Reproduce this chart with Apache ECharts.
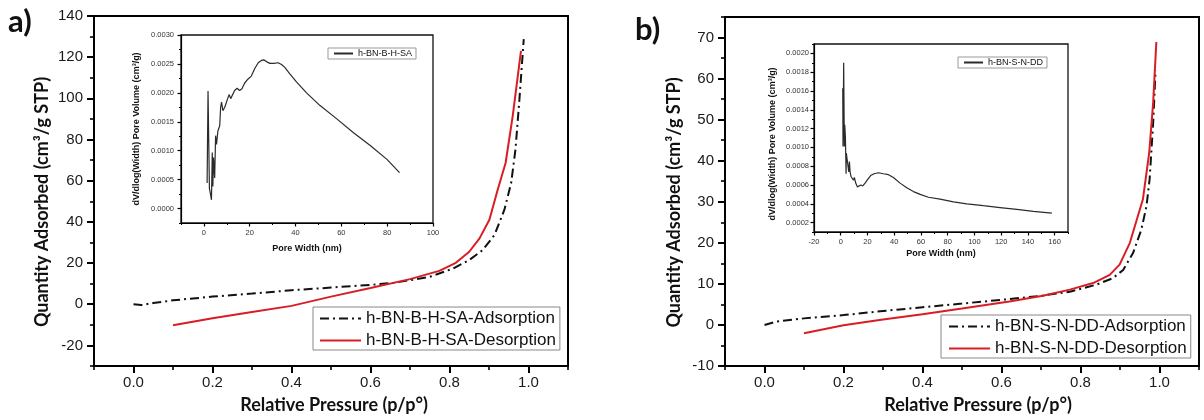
<!DOCTYPE html>
<html>
<head>
<meta charset="utf-8">
<script src="https://cdn.jsdelivr.net/npm/echarts@6/dist/echarts.min.js"></script>
<style>
  html, body { margin: 0; padding: 0; background: #fff; }
  #chart { width: 1204px; height: 420px; }
</style>
</head>
<body>
<div id="chart"></div>
<script>
// ---- (a) h-BN-B-H-SA isotherm ----
const adsPressureA = [0.0, 0.02, 0.05, 0.1, 0.2, 0.3, 0.4, 0.5, 0.6, 0.66, 0.75, 0.81, 0.85, 0.884, 0.914, 0.939, 0.956, 0.967, 0.977, 0.988];
const adsQuantityA = [0.0, -0.4, 0.6, 1.9, 3.7, 5.2, 6.8, 8.1, 9.4, 10.4, 13.3, 17.4, 21.5, 26.3, 33.7, 45.9, 58.8, 75.1, 99.5, 128.8];
const desPressureA = [0.1, 0.2, 0.3, 0.4, 0.5, 0.6, 0.7, 0.774, 0.816, 0.85, 0.876, 0.901, 0.922, 0.942, 0.96, 0.981];
const desQuantityA = [-10.2, -6.8, -3.8, -0.8, 3.7, 7.9, 12.2, 16.2, 20.1, 25.5, 32.0, 41.0, 55.6, 68.6, 91.4, 123.1];

// pore size distribution (a)
const poreWidthA = [1.4, 1.8, 2.4, 3.0, 3.3, 3.65, 3.9, 4.2, 4.7, 5.1, 5.5, 6.1, 6.9, 7.3, 7.7, 8.3, 9.1, 10.1, 11.0, 11.7, 12.4, 13.4, 14.5, 15.6, 16.6, 17.8, 19.3, 20.7, 22.2, 23.7, 25.1, 26.1, 27.3, 28.8, 30.5, 32.4, 33.9, 35.3, 37.5, 40.4, 44.8, 50.7, 58.0, 65.3, 72.6, 79.9, 85.4];
const poreVolA = [0.00044, 0.00203, 0.00035, 0.00022, 0.00015, 0.00097, 0.00038, 0.00088, 0.00053, 0.00126, 0.00111, 0.00134, 0.00143, 0.00175, 0.00184, 0.00169, 0.00175, 0.00187, 0.00197, 0.0019, 0.00192, 0.00204, 0.00208, 0.00204, 0.00207, 0.00217, 0.00224, 0.00229, 0.00242, 0.00252, 0.00256, 0.00257, 0.00254, 0.00251, 0.00251, 0.00252, 0.00249, 0.00244, 0.00233, 0.00219, 0.002, 0.00178, 0.00155, 0.00131, 0.00109, 0.00085, 0.00062];

// ---- (b) h-BN-S-N-DD isotherm ----
const adsPressureB = [0.0, 0.03, 0.1, 0.2, 0.3, 0.4, 0.5, 0.62, 0.7, 0.773, 0.84, 0.882, 0.908, 0.933, 0.954, 0.967, 0.975, 0.984, 0.99];
const adsQuantityB = [0.0, 0.8, 1.6, 2.4, 3.4, 4.3, 5.2, 6.3, 7.1, 8.1, 9.8, 11.4, 13.4, 17.5, 23.2, 28.9, 35.5, 49.3, 62.0];
const desPressureB = [0.1, 0.2, 0.3, 0.4, 0.5, 0.62, 0.705, 0.773, 0.832, 0.874, 0.899, 0.925, 0.958, 0.974, 0.984, 0.992];
const desQuantityB = [-2.0, -0.1, 1.3, 2.6, 4.0, 5.7, 7.1, 8.6, 10.2, 12.2, 14.7, 20.0, 30.6, 42.0, 54.2, 68.9];

// pore size distribution (b)
const poreWidthB = [1.5, 1.7, 2.2, 2.7, 3.0, 3.5, 4.0, 4.2, 4.7, 5.2, 6.0, 6.5, 7.0, 7.7, 8.7, 9.5, 10.2, 11.2, 12.5, 13.7, 15, 16.5, 18.2, 20.2, 22.4, 24.9, 28.2, 31.9, 35.7, 39.4, 44.4, 49.4, 54.4, 59.4, 65.6, 74.3, 84.3, 94.3, 106.7, 119.2, 131.7, 144.1, 157.9];
const poreVolB = [0.00163, 0.00101, 0.0019, 0.00101, 0.00124, 0.00111, 0.00072, 0.00094, 0.00088, 0.00083, 0.00074, 0.00085, 0.00074, 0.00069, 0.0007, 0.00065, 0.00068, 0.00062, 0.00058, 0.00058, 0.0006, 0.00059, 0.00062, 0.00066, 0.0007, 0.00072, 0.00073, 0.00072, 0.00071, 0.00068, 0.00062, 0.00057, 0.00053, 0.0005, 0.00047, 0.00045, 0.00042, 0.0004, 0.00038, 0.00036, 0.00034, 0.00032, 0.0003];

// ---- tick positions ----
const pressureTicks = [0.0, 0.2, 0.4, 0.6, 0.8, 1.0];
const pressureMinorTicks = [-0.1, 0.1, 0.3, 0.5, 0.7, 0.9, 1.1];
const quantityTicksA = [-20, 0, 20, 40, 60, 80, 100, 120, 140];
const quantityMinorTicksA = [-30, -10, 10, 30, 50, 70, 90, 110, 130];
const quantityTicksB = [-10, 0, 10, 20, 30, 40, 50, 60, 70];
const quantityMinorTicksB = [-5, 5, 15, 25, 35, 45, 55, 65, 75];
const widthTicksA = [0, 20, 40, 60, 80, 100];
const widthMinorTicksA = [-10, 10, 30, 50, 70, 90];
const volTicksA = [0, 0.0005, 0.001, 0.0015, 0.002, 0.0025, 0.003];
const volMinorTicksA = [-0.00025, 0.00025, 0.00075, 0.00125, 0.00175, 0.00225, 0.00275];
const widthTicksB = [-20, 0, 20, 40, 60, 80, 100, 120, 140, 160];
const widthMinorTicksB = [-10, 10, 30, 50, 70, 90, 110, 130, 150, 170];
const volTicksB = [0.0002, 0.0004, 0.0006, 0.0008, 0.001, 0.0012, 0.0014, 0.0016, 0.0018, 0.002];
const volMinorTicksB = [0.0001, 0.0003, 0.0005, 0.0007, 0.0009, 0.0011, 0.0013, 0.0015, 0.0017, 0.0019, 0.0021];

const zip = (xs, ys) => xs.map((x, i) => [x, ys[i]]);

const TICK_FONT = 'Liberation Sans';
const NAME_FONT = 'Lato';

// major axis: line, labels and long ticks
function majorAxis(o) {
  return {
    type: 'value', gridIndex: o.grid, position: o.pos,
    min: o.min, max: o.max,
    name: o.name, nameLocation: 'middle', nameGap: o.nameGap,
    nameTextStyle: Object.assign({ fontFamily: o.nameFont || NAME_FONT, fontWeight: 'bold', fontSize: o.nameSize, color: '#111' }, o.nameExtra || {}),
    axisLine: { show: true, onZero: false, lineStyle: { color: '#000', width: o.lw } },
    axisTick: { show: true, inside: false, length: o.tickLen, customValues: o.ticks, lineStyle: { color: '#000', width: o.lw } },
    axisLabel: { show: true, customValues: o.ticks, margin: o.labelMargin, fontFamily: TICK_FONT, fontSize: o.labelSize, color: o.labelColor || '#1a1a1a', formatter: o.fmt, hideOverlap: false },
    splitLine: { show: false }
  };
}
// companion axis carrying only the short minor ticks
function minorAxis(o) {
  return {
    type: 'value', gridIndex: o.grid, position: o.pos,
    min: o.min, max: o.max,
    axisLine: { show: false, onZero: false },
    axisTick: { show: true, inside: false, length: o.tickLen, customValues: o.ticks, lineStyle: { color: '#000', width: o.lw } },
    axisLabel: { show: false },
    splitLine: { show: false }
  };
}

const fix1 = v => v.toFixed(1);
const fix0 = v => String(Math.round(v));
const fix4 = v => v.toFixed(4);

const INSET_NAME_FONT = 'Liberation Sans';

const xAxes = [
  majorAxis({ grid: 0, pos: 'bottom', min: -0.1, max: 1.1, ticks: pressureTicks, tickLen: 7, lw: 2, labelMargin: 9, labelSize: 15, fmt: fix1,
    name: 'Relative Pressure (p/p°)', nameGap: 30, nameSize: 18, nameExtra: { padding: [0, 0, 0, 6] } }),
  minorAxis({ grid: 0, pos: 'bottom', min: -0.1, max: 1.1, ticks: pressureMinorTicks, tickLen: 4, lw: 1.6 }),
  majorAxis({ grid: 1, pos: 'bottom', min: -10, max: 100, ticks: widthTicksA, tickLen: 3.5, lw: 1.2, labelMargin: 6, labelSize: 7.5, fmt: fix0, labelColor: '#333',
    name: 'Pore Width (nm)', nameGap: 21, nameSize: 9, nameFont: INSET_NAME_FONT }),
  minorAxis({ grid: 1, pos: 'bottom', min: -10, max: 100, ticks: widthMinorTicksA, tickLen: 2, lw: 1 }),
  majorAxis({ grid: 2, pos: 'bottom', min: -0.1, max: 1.1, ticks: pressureTicks, tickLen: 7, lw: 2, labelMargin: 9, labelSize: 15, fmt: fix1,
    name: 'Relative Pressure (p/p°)', nameGap: 30, nameSize: 18, nameExtra: { padding: [0, 0, 0, 32] } }),
  minorAxis({ grid: 2, pos: 'bottom', min: -0.1, max: 1.1, ticks: pressureMinorTicks, tickLen: 4, lw: 1.6 }),
  majorAxis({ grid: 3, pos: 'bottom', min: -20, max: 170, ticks: widthTicksB, tickLen: 3.5, lw: 1.2, labelMargin: 6, labelSize: 7.5, fmt: fix0, labelColor: '#333',
    name: 'Pore Width (nm)', nameGap: 17.5, nameSize: 9, nameFont: INSET_NAME_FONT }),
  minorAxis({ grid: 3, pos: 'bottom', min: -20, max: 170, ticks: widthMinorTicksB, tickLen: 2, lw: 1 })
];

const yAxes = [
  majorAxis({ grid: 0, pos: 'left', min: -30, max: 140, ticks: quantityTicksA, tickLen: 7, lw: 2, labelMargin: 11, labelSize: 15, fmt: fix0,
    name: 'Quantity Adsorbed (cm³/g STP)', nameGap: 43, nameSize: 18, nameExtra: { padding: [0, 22, 0, 0] } }),
  minorAxis({ grid: 0, pos: 'left', min: -30, max: 140, ticks: quantityMinorTicksA, tickLen: 4, lw: 1.6 }),
  majorAxis({ grid: 1, pos: 'left', min: -0.00025, max: 0.003, ticks: volTicksA, tickLen: 3.5, lw: 1.2, labelMargin: 7, labelSize: 7.5, fmt: fix4, labelColor: '#333',
    name: 'dV/dlog(Width) Pore Volume (cm³/g)', nameGap: 39.5, nameSize: 9, nameFont: INSET_NAME_FONT }),
  minorAxis({ grid: 1, pos: 'left', min: -0.00025, max: 0.003, ticks: volMinorTicksA, tickLen: 2, lw: 1 }),
  majorAxis({ grid: 2, pos: 'left', min: -10, max: 75, ticks: quantityTicksB, tickLen: 7, lw: 2, labelMargin: 11, labelSize: 15, fmt: fix0,
    name: 'Quantity Adsorbed (cm³/g STP)', nameGap: 42, nameSize: 18, nameExtra: { padding: [0, 22, 0, 0] } }),
  minorAxis({ grid: 2, pos: 'left', min: -10, max: 75, ticks: quantityMinorTicksB, tickLen: 4, lw: 1.6 }),
  majorAxis({ grid: 3, pos: 'left', min: 0.0001, max: 0.0021, ticks: volTicksB, tickLen: 3.5, lw: 1.2, labelMargin: 5, labelSize: 7.5, fmt: fix4, labelColor: '#333',
    name: 'dV/dlog(Width) Pore Volume (cm³/g)', nameGap: 37, nameSize: 9, nameFont: INSET_NAME_FONT, nameExtra: { padding: [0, 12, 0, 0] } }),
  minorAxis({ grid: 3, pos: 'left', min: 0.0001, max: 0.0021, ticks: volMinorTicksB, tickLen: 2, lw: 1 })
];

const ADS_STYLE = { color: '#111', width: 2, type: [9, 4, 2, 4] };
const DES_STYLE = { color: '#d81e25', width: 2, type: 'solid' };
const PSD_STYLE = { color: '#2b2b2b', width: 1.2, type: 'solid' };

function lineSeries(name, xi, data, style, z) {
  return { type: 'line', name, xAxisIndex: xi, yAxisIndex: xi, data, symbol: 'none', showSymbol: false,
    lineStyle: style, itemStyle: { color: style.color }, z: z || 2, animation: false, silent: true };
}

// legend entries show the line sample only (no marker)
const legendBase = (o) => ({
  orient: 'vertical', left: o.left, top: o.top, padding: o.padding,
  itemWidth: o.itemWidth, itemHeight: o.itemHeight, itemGap: o.itemGap,
  borderColor: o.border, borderWidth: 1, backgroundColor: '#fff', borderRadius: 0,
  itemStyle: { color: 'rgba(0,0,0,0)', borderColor: 'rgba(0,0,0,0)', borderWidth: 0, opacity: 0 },
  textStyle: { fontFamily: TICK_FONT, fontSize: o.fontSize, color: '#111', padding: [0, 0, 0, 0] },
  data: o.data, selectedMode: false, z: 10
});

const option = {
  animation: false,
  backgroundColor: '#fff',
  grid: [
    { left: 94, top: 16, width: 474, height: 350, show: true, borderColor: '#000', borderWidth: 2, backgroundColor: 'transparent' },
    { left: 181, top: 35, width: 252, height: 188, show: true, borderColor: '#111', borderWidth: 1.3, backgroundColor: '#fff' },
    { left: 725, top: 17, width: 474, height: 349, show: true, borderColor: '#000', borderWidth: 2, backgroundColor: 'transparent' },
    { left: 814, top: 44, width: 254, height: 188, show: true, borderColor: '#111', borderWidth: 1.3, backgroundColor: '#fff' }
  ],
  xAxis: xAxes,
  yAxis: yAxes,
  legend: [
    legendBase({ left: 313, top: 307, padding: [3, 4, 1, 6], itemWidth: 41, itemHeight: 14, itemGap: 5, border: '#888', fontSize: 17,
      data: ['h-BN-B-H-SA-Adsorption', 'h-BN-B-H-SA-Desorption'] }),
    legendBase({ left: 328, top: 48, padding: [1, 4, 1, 5], itemWidth: 19, itemHeight: 8, itemGap: 2, border: '#999', fontSize: 9,
      data: ['h-BN-B-H-SA'] }),
    legendBase({ left: 941, top: 315, padding: [3, 4, 1, 7], itemWidth: 41, itemHeight: 14, itemGap: 5, border: '#888', fontSize: 17,
      data: ['h-BN-S-N-DD-Adsorption', 'h-BN-S-N-DD-Desorption'] }),
    legendBase({ left: 958, top: 57, padding: [1, 4, 1, 5], itemWidth: 19, itemHeight: 8, itemGap: 2, border: '#999', fontSize: 9,
      data: ['h-BN-S-N-DD'] })
  ],
  series: [
    lineSeries('h-BN-B-H-SA-Adsorption', 0, zip(adsPressureA, adsQuantityA), ADS_STYLE),
    lineSeries('h-BN-B-H-SA-Desorption', 0, zip(desPressureA, desQuantityA), DES_STYLE),
    lineSeries('h-BN-B-H-SA', 2, zip(poreWidthA, poreVolA), PSD_STYLE, 5),
    lineSeries('h-BN-S-N-DD-Adsorption', 4, zip(adsPressureB, adsQuantityB), ADS_STYLE),
    lineSeries('h-BN-S-N-DD-Desorption', 4, zip(desPressureB, desQuantityB), DES_STYLE),
    lineSeries('h-BN-S-N-DD', 6, zip(poreWidthB, poreVolB), PSD_STYLE, 5)
  ],
  graphic: [
    { type: 'text', left: 8, top: 6, style: { text: 'a)', fontFamily: NAME_FONT, fontWeight: 'bold', fontSize: 31, fill: '#111' } },
    { type: 'text', left: 635, top: 14, style: { text: 'b)', fontFamily: NAME_FONT, fontWeight: 'bold', fontSize: 31, fill: '#111' } }
  ]
};

const chart = echarts.init(document.getElementById('chart'), null, { renderer: 'canvas' });
chart.setOption(option);
</script>
</body>
</html>
